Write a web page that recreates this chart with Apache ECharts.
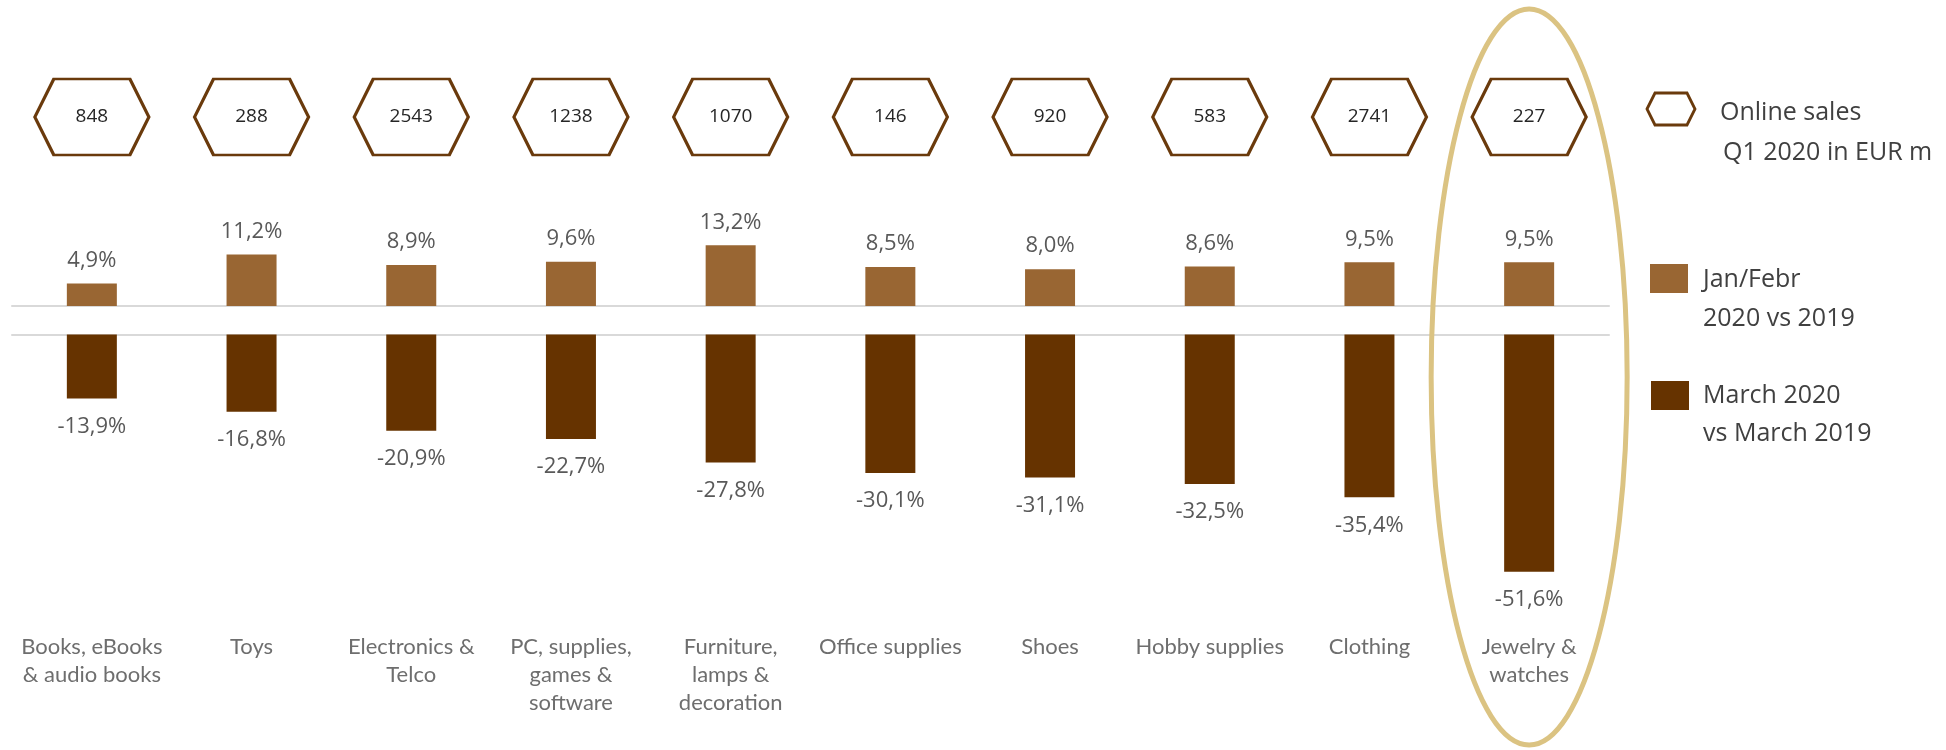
<!DOCTYPE html>
<html>
<head>
<meta charset="utf-8">
<script src="https://cdn.jsdelivr.net/npm/echarts@6/dist/echarts.min.js"></script>
<style>
    html, body { margin: 0; padding: 0; background: #fff; }
    #main { width: 1946px; height: 750px; }
</style>
</head>
<body>
<div id="main"></div>
<script>
var categories = ['Books, eBooks\n& audio books', 'Toys', 'Electronics &\nTelco', 'PC, supplies,\ngames &\nsoftware',
    'Furniture,\nlamps &\ndecoration', 'Office supplies', 'Shoes', 'Hobby supplies', 'Clothing', 'Jewelry &\nwatches'];
var onlineSales = [848, 288, 2543, 1238, 1070, 146, 920, 583, 2741, 227];
var janFeb = [4.9, 11.2, 8.9, 9.6, 13.2, 8.5, 8.0, 8.6, 9.5, 9.5];
var march = [-13.9, -16.8, -20.9, -22.7, -27.8, -30.1, -31.1, -32.5, -35.4, -51.6];
var highlight = 'Jewelry &\nwatches';

var light = '#996633', dark = '#663300', hexBorder = '#6a3a0c', lineGray = '#d9d9d9';

function pct(p) {
    return p.value.toFixed(1).replace('.', ',') + '%';
}

var chart = echarts.init(document.getElementById('main'));

var gridPos = {left: 12, right: 337};
var option = {
    animation: false,
    backgroundColor: '#fff',
    grid: [
        Object.assign({top: 79, height: 76}, gridPos),
        Object.assign({top: 237, height: 69}, gridPos),
        Object.assign({top: 334.5, height: 253}, gridPos)
    ],
    xAxis: [
        {gridIndex: 0, type: 'category', data: categories, show: false},
        {gridIndex: 1, type: 'category', data: categories,
            axisLine: {lineStyle: {color: lineGray, width: 2}},
            axisTick: {show: false}, axisLabel: {show: false}},
        {gridIndex: 2, type: 'category', data: categories, position: 'top',
            axisLine: {lineStyle: {color: lineGray, width: 2}},
            axisTick: {show: false}, axisLabel: {show: false}},
        {gridIndex: 2, type: 'category', data: categories, position: 'bottom',
            axisLine: {show: false, onZero: false}, axisTick: {show: false},
            axisLabel: {interval: 0, margin: 45, color: '#6e6e6e', fontFamily: 'Lato',
                fontSize: 22, lineHeight: 28, align: 'center'}}
    ],
    yAxis: [
        {gridIndex: 0, type: 'category', data: ['Online sales'], show: false},
        {gridIndex: 1, type: 'value', min: 0, max: 15, show: false},
        {gridIndex: 2, type: 'value', min: -55, max: 0, show: false}
    ],
    series: [
        {
            name: 'Online sales Q1 2020 in EUR m',
            type: 'scatter',
            xAxisIndex: 0, yAxisIndex: 0,
            symbol: 'path://M0,38 L19,0 L95,0 L114,38 L95,76 L19,76 Z',
            symbolSize: [114, 76],
            itemStyle: {color: '#fff', borderColor: hexBorder, borderWidth: 2.8, opacity: 1},
            label: {show: true, position: 'inside', color: '#262626', fontFamily: 'Open Sans', fontSize: 19,
                formatter: function (p) { return p.value[2]; }},
            data: onlineSales.map(function (v, i) { return [categories[i], 'Online sales', v]; })
        },
        {
            name: 'Jan/Febr 2020 vs 2019',
            type: 'bar',
            xAxisIndex: 1, yAxisIndex: 1,
            barWidth: 50,
            itemStyle: {color: light},
            label: {show: true, position: 'top', distance: 12, color: '#595959',
                fontFamily: 'Open Sans', fontSize: 22, formatter: pct},
            data: janFeb
        },
        {
            name: 'March 2020 vs March 2019',
            type: 'bar',
            xAxisIndex: 2, yAxisIndex: 2,
            barWidth: 50,
            itemStyle: {color: dark},
            label: {show: true, position: 'bottom', distance: 17, color: '#595959',
                fontFamily: 'Open Sans', fontSize: 22, formatter: pct},
            data: march
        }
    ]
};
chart.setOption(option);

// legend drawn by hand, icon level with the first line of text
var legendFont = '25px "Open Sans"';
var legendColor = '#404040';
function legendText(t, x, y) {
    return {type: 'text', style: {text: t, x: x, y: y, font: legendFont, fill: legendColor, verticalAlign: 'middle'}};
}

var hx = chart.convertToPixel({xAxisIndex: 0}, highlight);

chart.setOption({
    graphic: [
        {type: 'polygon', shape: {points: [[1647, 109], [1655, 93], [1687, 93], [1695, 109], [1687, 125], [1655, 125]]},
            style: {fill: '#fff', stroke: hexBorder, lineWidth: 2.8}},
        legendText('Online sales', 1720, 113),
        legendText('Q1 2020 in EUR m', 1723, 153),
        {type: 'rect', shape: {x: 1650, y: 264, width: 38, height: 29}, style: {fill: light}},
        legendText('Jan/Febr', 1703, 280),
        legendText('2020 vs 2019', 1703, 319),
        {type: 'rect', shape: {x: 1651, y: 381, width: 38, height: 29}, style: {fill: dark}},
        legendText('March 2020', 1703, 396),
        legendText('vs March 2019', 1703, 434),
        {type: 'ellipse', z: 100, shape: {cx: hx, cy: 377, rx: 98, ry: 368},
            style: {fill: 'none', stroke: '#dbc382', lineWidth: 5}}
    ]
});
</script>
</body>
</html>
